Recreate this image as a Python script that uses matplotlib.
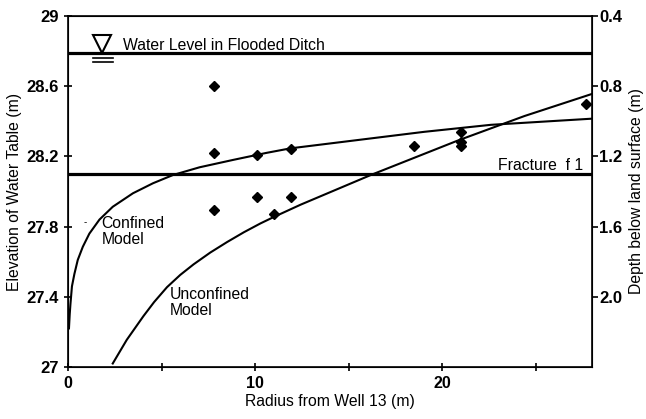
import matplotlib
matplotlib.use("Agg")
import matplotlib.pyplot as plt

plt.rcParams['font.family'] = ['Liberation Sans', 'DejaVu Sans']

# measured water table (m)
obs_r = [7.8, 7.8, 7.8, 10.1, 10.1, 11.0, 11.9, 11.9, 18.5, 21.0, 21.0, 21.0, 27.7]
obs_h = [28.60, 28.22, 27.895, 28.21, 27.97, 27.87, 28.24, 27.97, 28.26, 28.34, 28.28, 28.26, 28.50]

# model curves
conf_r = [0.05, 0.09, 0.13, 0.21, 0.34, 0.52, 0.79, 1.14, 1.68, 2.39, 3.47, 4.54, 5.61,
          7.03, 8.82, 10.6, 11.89, 15.46, 19.03, 22.6, 28.0]
conf_h = [27.22, 27.30, 27.36, 27.46, 27.53, 27.61, 27.685, 27.76, 27.84, 27.913, 27.99,
          28.047, 28.094, 28.138, 28.18, 28.22, 28.246, 28.293, 28.34, 28.38, 28.415]
unconf_r = [2.39, 3.14, 4.03, 4.6, 5.29, 6.0, 6.71, 7.6, 8.5, 9.4, 10.28, 11.0, 12.43,
            16.18, 20.82, 24.39, 28.0]
unconf_h = [27.02, 27.155, 27.29, 27.37, 27.455, 27.525, 27.585, 27.652, 27.712, 27.768,
            27.818, 27.855, 27.925, 28.094, 28.29, 28.43, 28.556]

ditch_level = 28.79
fracture_level = 28.10
land_surface = 29.4  # depth = land_surface - elevation

yticks = [27, 27.4, 27.8, 28.2, 28.6, 29]
ylabels = ['27', '27.4', '27.8', '28.2', '28.6', '29']
depth_ticks = [0.4, 0.8, 1.2, 1.6, 2.0]
depth_labels = ['0.4', '0.8', '1.2', '1.6', '2.0']

fig = plt.figure(figsize=(6.46, 4.19), dpi=100)
ax = fig.add_axes([0.1053, 0.1241, 0.8111, 0.8377])

ax.plot(conf_r, conf_h, color='black', lw=1.5)
ax.plot(unconf_r, unconf_h, color='black', lw=1.5)
ax.plot(obs_r, obs_h, linestyle='none', marker='D', ms=5.5, color='black')
ax.axhline(ditch_level, color='black', lw=2.3)
ax.axhline(fracture_level, color='black', lw=2.3)

# water level symbol
ax.plot([1.8], [28.84], marker='v', ms=13, mfc='white', mec='black', mew=1.5)
ax.plot([1.33, 2.4], [28.76, 28.76], color='black', lw=1.2)
ax.plot([1.33, 2.4], [28.738, 28.738], color='black', lw=1.2)

ax.text(2.95, 28.805, 'Water Level in Flooded Ditch', fontsize=11.3, va='baseline')
ax.text(27.55, 28.12, 'Fracture  f 1', fontsize=11.3, ha='right', va='baseline')
ax.text(1.8, 27.86, 'Confined\nModel', fontsize=11.3, va='top', linespacing=1.1)
ax.text(5.45, 27.455, 'Unconfined\nModel', fontsize=11.3, va='top', linespacing=1.1)
ax.text(0.85, 27.81, '-', fontsize=7)

ax.set_xlim(0, 28)
ax.set_ylim(27, 29)
ax.set_xticks([0, 5, 10, 15, 20, 25])
ax.set_xticklabels(['0', '', '10', '', '20', ''])
ax.set_yticks(yticks)
ax.set_yticklabels(ylabels)
ax.tick_params(direction='inout', length=6, width=1.2, labelsize=11.5)
ax.tick_params(axis='y', labelsize=12)
for lab in ax.get_xticklabels() + ax.get_yticklabels():
    lab.set_fontweight('bold')
for s in ax.spines.values():
    s.set_linewidth(1.2)

ax.set_xlabel('Radius from Well 13 (m)', fontsize=11.3, labelpad=2)
ax.set_ylabel('Elevation of Water Table (m)', fontsize=11.3, labelpad=3)

ax2 = ax.twinx()
ax2.set_ylim(land_surface - 27, land_surface - 29)
ax2.set_yticks(depth_ticks)
ax2.set_yticklabels(depth_labels)
ax2.tick_params(direction='out', length=4, width=1.2, labelsize=12, pad=1)
for lab in ax2.get_yticklabels():
    lab.set_fontweight('bold')
ax2.set_ylabel('Depth below land surface (m)', fontsize=11.3, labelpad=5)

fig.savefig('out.png', dpi=100)
